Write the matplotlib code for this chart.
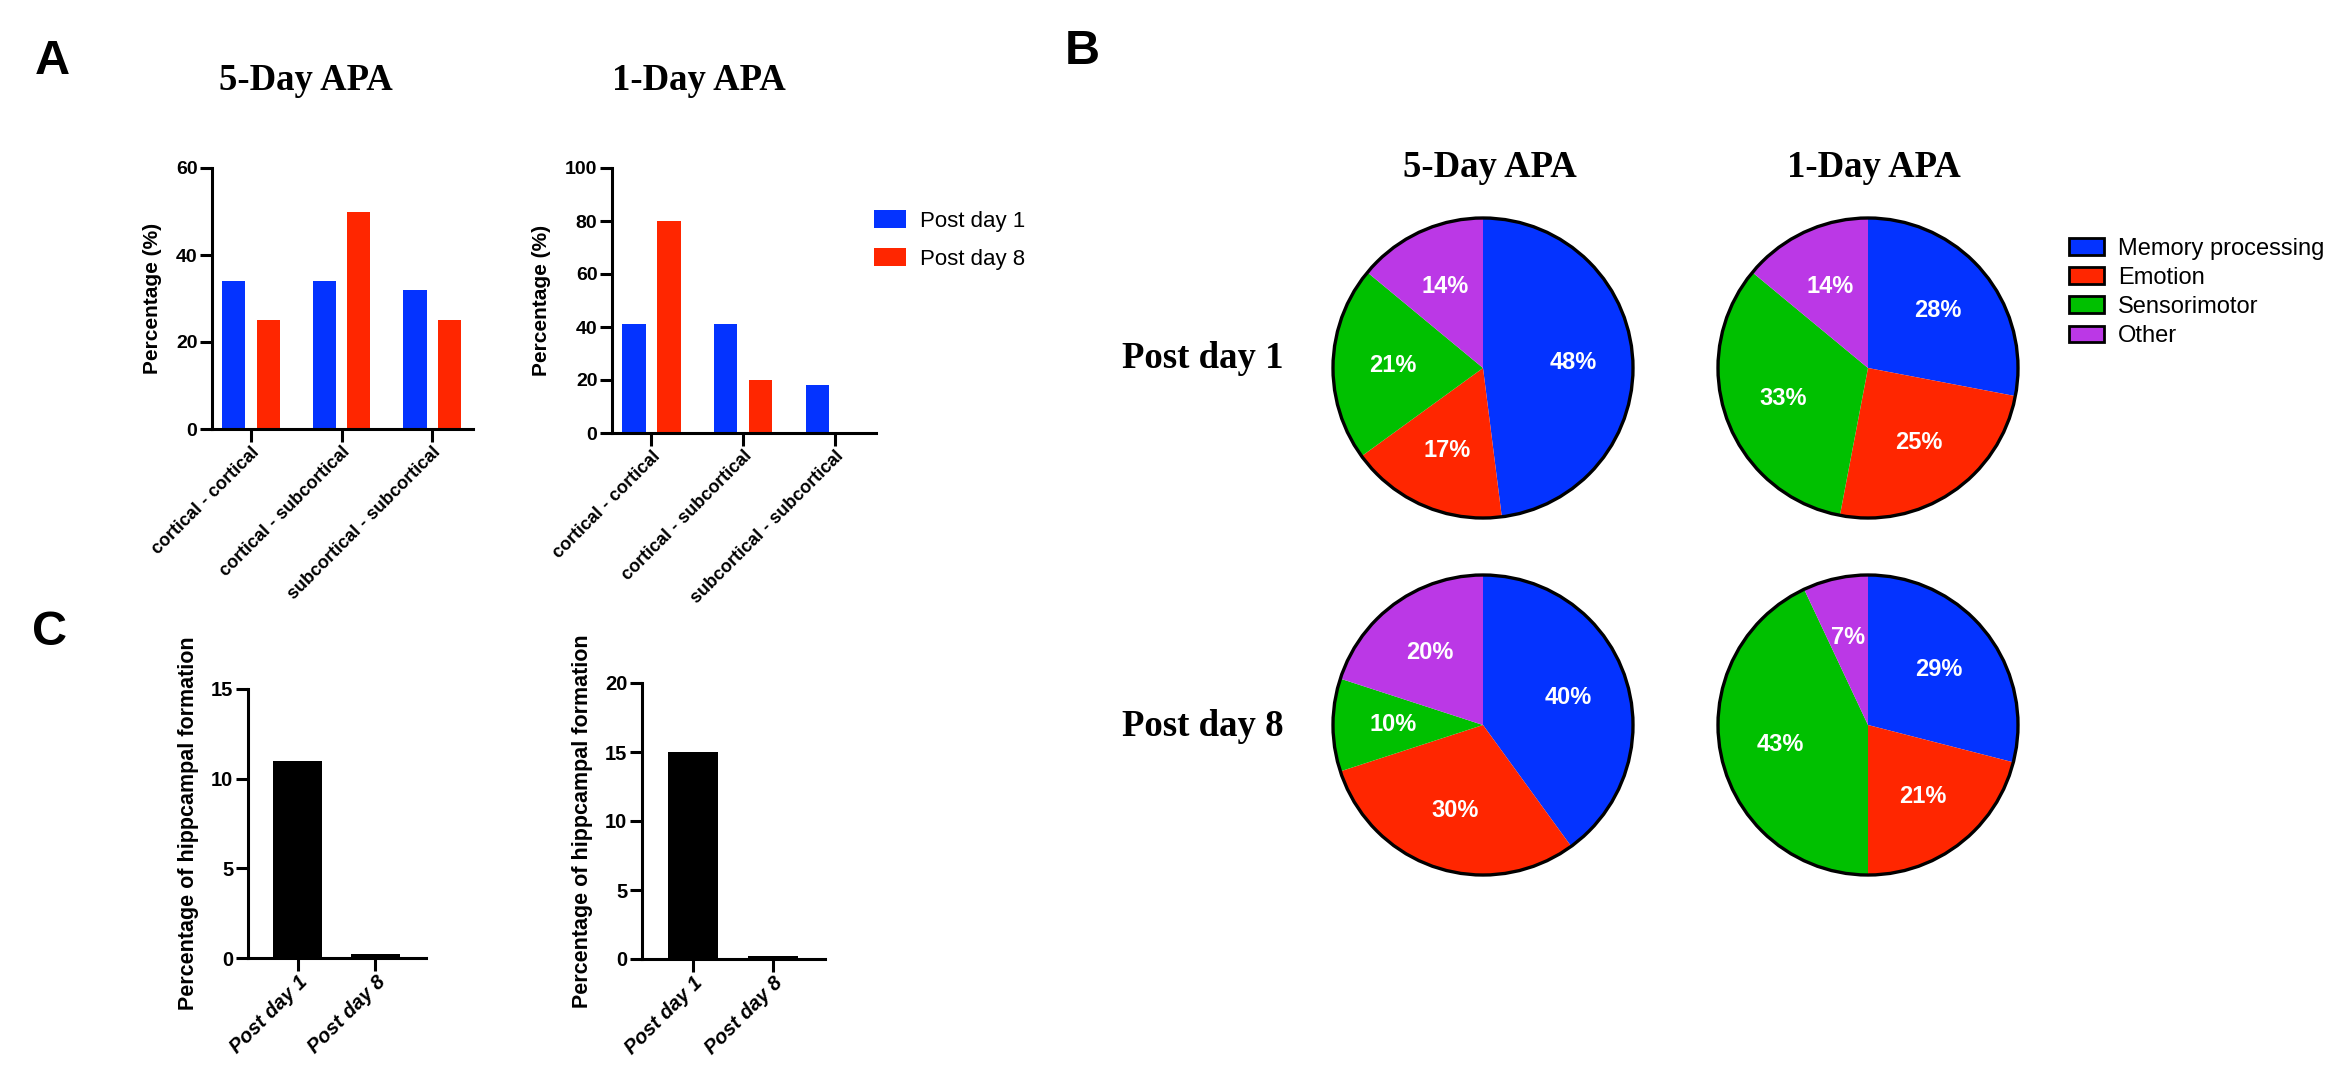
import matplotlib
matplotlib.use("Agg")
import matplotlib.pyplot as plt
from matplotlib.patches import Patch, Circle
import numpy as np

W, H = 2339, 1068
DPI = 100

BLUE = "#0433FF"
RED = "#FF2600"
GREEN = "#00C000"
PURPLE = "#BB38E6"

# panel A data
pair_types = ["cortical - cortical", "cortical - subcortical", "subcortical - subcortical"]
apa5_day1 = [34, 34, 32]
apa5_day8 = [25, 50, 25]
apa1_day1 = [41, 41, 18]
apa1_day8 = [80, 20, 0]

# panel B data
region_names = ["Memory processing", "Emotion", "Sensorimotor", "Other"]
region_colors = [BLUE, RED, GREEN, PURPLE]
pie_5day_day1 = [48, 17, 21, 14]
pie_1day_day1 = [28, 25, 33, 14]
pie_5day_day8 = [40, 30, 10, 20]
pie_1day_day8 = [29, 21, 43, 7]

# panel C data
days = ["Post day 1", "Post day 8"]
hippo_5day = [11, 0.2]
hippo_1day = [15, 0.2]

plt.rcParams["font.family"] = ["Liberation Sans", "DejaVu Sans"]

fig = plt.figure(figsize=(W / DPI, H / DPI), dpi=DPI)


def px_axes(x0, y0, x1, y1):
    # pixel box (top-left origin) -> figure axes
    return fig.add_axes([x0 / W, 1 - y1 / H, (x1 - x0) / W, (y1 - y0) / H])


def style_axes(ax):
    for s in ["top", "right"]:
        ax.spines[s].set_visible(False)
    for s in ["left", "bottom"]:
        ax.spines[s].set_linewidth(2.2)
    ax.tick_params(width=2.2, length=9, pad=1.5)


def fig_text(x, y, s, **kw):
    fig.text(x / W, 1 - y / H, s, **kw)


serif = ["Liberation Serif", "DejaVu Serif"]

# ---- panel A ----
def group_bars(ax, v1, v8, ymax, step):
    x = np.arange(len(pair_types))
    ax.bar(x - 0.19, v1, 0.255, color=BLUE, label="Post day 1")
    ax.bar(x + 0.19, v8, 0.255, color=RED, label="Post day 8")
    ax.set_xlim(-0.43, 2.45)
    ax.set_ylim(0, ymax)
    ax.set_yticks(np.arange(0, ymax + 1, step))
    ax.set_xticks(x)
    ax.set_xticklabels(pair_types, rotation=45, ha="right", rotation_mode="anchor",
                       fontsize=13, fontweight="bold")
    ax.set_ylabel("Percentage (%)", fontsize=15, fontweight="bold", labelpad=10)
    for lab in ax.get_yticklabels():
        lab.set_fontsize(14)
        lab.set_fontweight("bold")
    style_axes(ax)


axA1 = px_axes(212, 168, 473, 429)
group_bars(axA1, apa5_day1, apa5_day8, 60, 20)
axA2 = px_axes(612, 168, 876, 433)
group_bars(axA2, apa1_day1, apa1_day8, 100, 20)

axA2.legend(loc="upper left", bbox_to_anchor=(874 / W, 1 - 210 / H),
            bbox_transform=fig.transFigure, frameon=False, fontsize=16,
            handlelength=1.44, handleheight=0.86, handletextpad=0.65,
            labelspacing=0.75, borderpad=0, borderaxespad=0)

fig_text(35, 74, "A", fontsize=35, fontweight="bold")
fig_text(306, 90, "5-Day APA", fontsize=26.5, fontweight="bold", family=serif, ha="center")
fig_text(699, 90, "1-Day APA", fontsize=26.5, fontweight="bold", family=serif, ha="center")

# ---- panel C ----
def hippo_bars(ax, vals, ymax):
    x = np.arange(len(days))
    ax.bar(x, vals, 0.63, color="black")
    ax.set_xlim(-0.64, 1.65)
    ax.set_ylim(0, ymax)
    ax.set_yticks(np.arange(0, ymax + 1, 5))
    ax.set_xticks(x)
    ax.set_xticklabels(days, rotation=45, ha="right", rotation_mode="anchor",
                       fontsize=14.5, fontweight="bold", fontstyle="italic")
    ax.set_ylabel("Percentage of hippcampal formation", fontsize=15.5,
                  fontweight="bold", labelpad=9)
    for lab in ax.get_yticklabels():
        lab.set_fontsize(14.5)
        lab.set_fontweight("bold")
    style_axes(ax)


axC1 = px_axes(248, 689, 426, 958)
hippo_bars(axC1, hippo_5day, 15)
axC2 = px_axes(642, 683, 825, 959)
hippo_bars(axC2, hippo_1day, 20)

fig_text(32, 645, "C", fontsize=35, fontweight="bold")

# ---- panel B ----
def draw_pie(cx, cy, vals):
    r = 150
    ax = px_axes(cx - r, cy - r, cx + r, cy + r)
    ax.pie(vals, colors=region_colors, startangle=90, counterclock=False,
           radius=1, wedgeprops=dict(linewidth=0),
           autopct="%d%%", pctdistance=0.6,
           textprops=dict(color="white", fontsize=17, fontweight="bold"))
    ax.add_patch(Circle((0, 0), 1, fill=False, lw=2.4, ec="black", clip_on=False))
    ax.set_xlim(-1, 1)
    ax.set_ylim(-1, 1)
    ax.set_aspect("equal")
    ax.axis("off")
    return ax


draw_pie(1483, 368, pie_5day_day1)
draw_pie(1868, 368, pie_1day_day1)
draw_pie(1483, 725, pie_5day_day8)
draw_pie(1868, 725, pie_1day_day8)

handles = [Patch(facecolor=c, edgecolor="black", linewidth=2, label=n)
           for c, n in zip(region_colors, region_names)]
fig.legend(handles=handles, loc="upper left", bbox_to_anchor=(2069 / W, 1 - 238 / H),
           frameon=False, fontsize=17, handlelength=1.48, handleheight=0.72,
           handletextpad=0.6, labelspacing=0.3, borderpad=0, borderaxespad=0)

fig_text(1065, 64, "B", fontsize=35, fontweight="bold")
fig_text(1490, 177, "5-Day APA", fontsize=26.5, fontweight="bold", family=serif, ha="center")
fig_text(1874, 177, "1-Day APA", fontsize=26.5, fontweight="bold", family=serif, ha="center")
fig_text(1122, 368, "Post day 1", fontsize=26.5, fontweight="bold", family=serif)
fig_text(1122, 736, "Post day 8", fontsize=26.5, fontweight="bold", family=serif)

fig.savefig("out.png", dpi=DPI)
